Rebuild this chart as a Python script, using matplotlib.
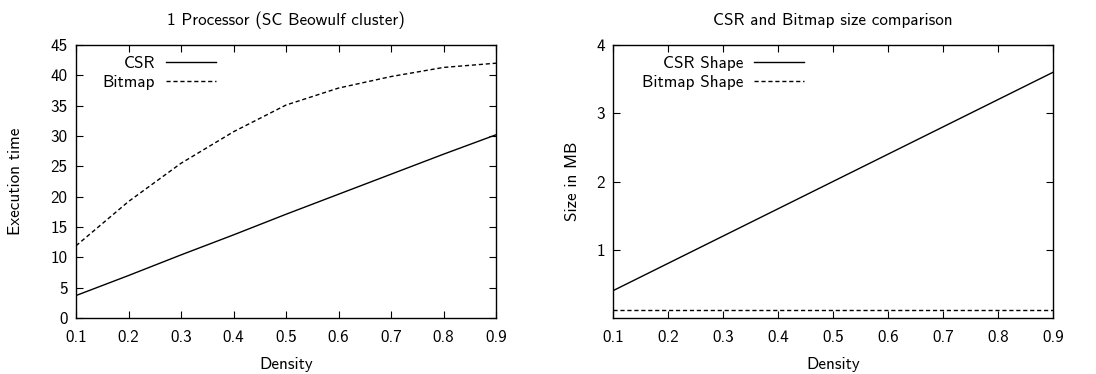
import matplotlib
matplotlib.use("Agg")
import matplotlib.pyplot as plt

density = [0.1, 0.2, 0.3, 0.4, 0.5, 0.6, 0.7, 0.8, 0.9]
csr_time = [3.7, 7.0, 10.4, 13.7, 17.1, 20.4, 23.7, 27.0, 30.2]
bitmap_time = [11.9, 19.2, 25.5, 30.7, 35.1, 37.9, 39.8, 41.3, 42.0]
csr_size = [0.4, 0.8, 1.2, 1.6, 2.0, 2.4, 2.8, 3.2, 3.6]
bitmap_size = [0.12] * 9

left_title = "1 Processor (SC Beowulf cluster)"
right_title = "CSR and Bitmap size comparison"
xticks = [0.1, 0.2, 0.3, 0.4, 0.5, 0.6, 0.7, 0.8, 0.9]
left_yticks = [0, 5, 10, 15, 20, 25, 30, 35, 40, 45]
right_yticks = [1, 2, 3, 4]

plt.rcParams['font.family'] = ['cmss10', 'DejaVu Sans']
plt.rcParams['axes.unicode_minus'] = False
FS = 12.3

fig = plt.figure(figsize=(10.96, 3.74), dpi=100)
W, H = 1096, 374
axL = fig.add_axes([76 / W, 1 - 318 / H, 420 / W, 273 / H])
axR = fig.add_axes([613 / W, 1 - 318 / H, 440 / W, 273 / H])

dash = (0, (3, 2))

def style(ax, yticks, ylim, title, ylabel, ylabel_x):
    ax.set_xlim(0.1, 0.9)
    ax.set_ylim(*ylim)
    ax.set_xticks(xticks)
    ax.set_xticklabels([f"{v:.1f}" for v in xticks])
    ax.set_yticks(yticks)
    ax.set_yticklabels([str(v) for v in yticks])
    ax.tick_params(direction='in', length=5, width=0.8, top=True, right=True,
                   labelsize=FS)
    ax.tick_params(axis='x', pad=9)
    ax.tick_params(axis='y', pad=6)
    for s in ax.spines.values():
        s.set_linewidth(1.0)
    ax.set_title(title, fontsize=FS, pad=14.5)
    ax.set_xlabel("Density", fontsize=FS, labelpad=8)
    ax.set_ylabel(ylabel, fontsize=FS)
    ax.yaxis.set_label_coords(ylabel_x, 0.5)

def legend(ax, handles, labels, xr):
    leg = ax.legend(handles, labels, loc='upper right', bbox_to_anchor=(xr, 0.961),
                    frameon=False, markerfirst=False, fontsize=FS,
                    handlelength=2.9, handletextpad=0.65, labelspacing=0.28,
                    borderaxespad=0.0, borderpad=0.0)
    for col in leg._legend_handle_box.get_children():
        col.align = "right"
    return leg

l1, = axL.plot(density, csr_time, color='black', lw=1.0)
l2, = axL.plot(density, bitmap_time, color='black', lw=1.0, linestyle=dash)
style(axL, left_yticks, (0, 45), left_title, "Execution time", -0.126)
legend(axL, [l1, l2], ["CSR", "Bitmap"], 0.333)

r1, = axR.plot(density, csr_size, color='black', lw=1.0)
r2, = axR.plot(density, bitmap_size, color='black', lw=1.0, linestyle=dash)
style(axR, right_yticks, (0, 4), right_title, "Size in MB", -0.075)
legend(axR, [r1, r2], ["CSR Shape", "Bitmap Shape"], 0.434)

fig.savefig("out.png", dpi=100)
